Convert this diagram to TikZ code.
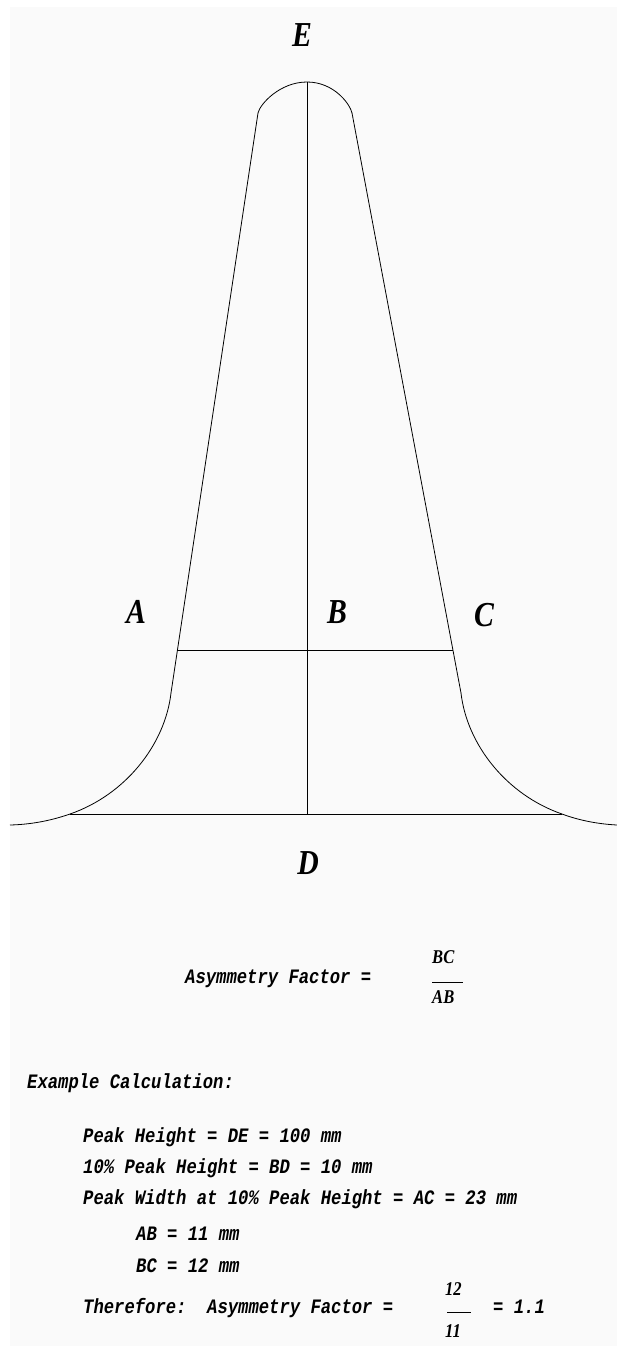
\documentclass[tikz,border=0pt]{standalone}
\usepackage{fontspec}
\usetikzlibrary{calc}
\newfontfamily\calcfont[FakeStretch=0.84]{Liberation Mono}
\newfontfamily\peakfont[FakeStretch=0.85]{Liberation Serif}
\definecolor{paper}{HTML}{FAFAFA}

\begin{document}
\begin{tikzpicture}[
    x=1pt, y=-1pt,
    every node/.style={inner sep=0pt},
    calc text/.style={anchor=base west, font=\calcfont\bfseries\itshape\fontsize{20.5}{22}\selectfont},
    frac text/.style={anchor=base west, font=\peakfont\bfseries\itshape\fontsize{19.5}{21}\selectfont},
    peak label/.style={font=\peakfont\bfseries\itshape\fontsize{35}{38}\selectfont},
    trace/.style={line width=0.8pt},
]
\useasboundingbox (0,0) rectangle (617,1346);
\fill[paper] (10,7) rectangle (617,1346);
% peak outline points
\coordinate (E) at (307,82);
\coordinate (ltop) at (258,113);
\coordinate (rtop) at (352,113);
\coordinate (lbend) at (171,693);
\coordinate (rbend) at (461,693);
\coordinate (A) at ($(ltop)!0.926!(lbend)$);
\coordinate (C) at ($(rtop)!0.926!(rbend)$);
\coordinate (B) at (E |- A);
\coordinate (D) at (307,814);
\coordinate (lfoot) at (70,814);
\coordinate (rfoot) at (562,814);
% rounded apex and straight flanks
\draw[trace] (ltop) .. controls (260,104) and (280,82) .. (E)
    .. controls (334,82) and (350,104) .. (rtop);
\draw[trace] (ltop) -- (lbend);
\draw[trace] (rtop) -- (rbend);
% tails down to the baseline
\draw[trace] (lbend) .. controls (165,745) and (125,795) .. (lfoot)
    .. controls (50,821) and (30,824.5) .. (10,825);
\draw[trace] (rbend) .. controls (467,745) and (507,795) .. (rfoot)
    .. controls (578,820) and (597,824) .. (617,825);
% height, width at 10% and baseline
\draw[trace] (E) -- (D);
\draw[trace] (A) -- (C);
\draw[trace] (lfoot) -- (rfoot);
\node[peak label] (labE) at (302,35) {E};
\node[peak label] (labA) at (136,612) {A};
\node[peak label] (labB) at (337,612) {B};
\node[peak label] (labC) at (484,615) {C};
\node[peak label] (labD) at (308,863) {D};
% definition
\node[calc text] (asym) at (185,983) {Asymmetry Factor =};
\node[frac text] (numBC) at (432,963) {BC};
\node[frac text] (denAB) at (432,1003) {AB};
\draw[trace] (432,982) -- (463,982);
% worked example
\node[calc text] (example) at (27,1088) {Example Calculation:};
\node[calc text] (height) at (83,1142) {Peak Height = DE = 100 mm};
\node[calc text] (tenpct) at (83,1173) {10\% Peak Height = BD = 10 mm};
\node[calc text] (width) at (83,1204) {Peak Width at 10\% Peak Height = AC = 23 mm};
\node[calc text] (ab) at (136,1240) {AB = 11 mm};
\node[calc text] (bc) at (136,1272) {BC = 12 mm};
\node[calc text] (therefore) at (83,1313) {Therefore:\ \ Asymmetry Factor =};
\node[frac text] (num12) at (445,1295) {12};
\node[frac text] (den11) at (445,1337) {11};
\draw[trace] (447,1312) -- (471,1312);
\node[calc text] (result) at (493,1313) {= 1.1};
\end{tikzpicture}
\end{document}
